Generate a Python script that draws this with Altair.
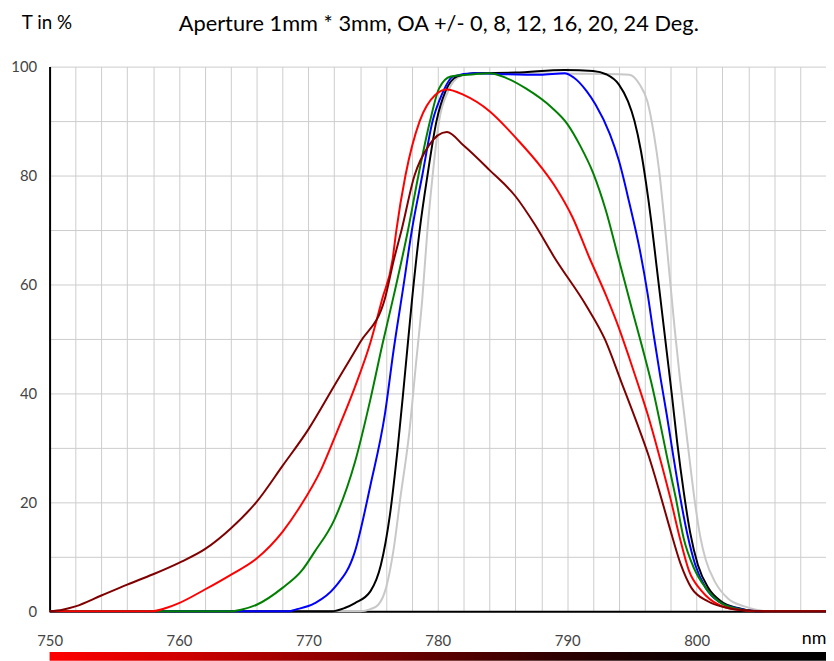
import altair as alt
import pandas as pd

# ---- data ----
series_names = ["0 Deg", "8 Deg", "12 Deg", "16 Deg", "20 Deg", "24 Deg"]
series_colors = ["#c8c8c8", "#000000", "#0000ff", "#008000", "#ff0000", "#800000"]

nm_0 = [750, 774, 774.8, 775.4, 776, 776.6, 777.1, 777.8, 778.3, 778.8, 779.2, 779.6, 780.1, 780.8, 781.7,
        782.8, 786, 790, 794, 794.8, 795.6, 796.2, 796.7, 797.1, 797.5, 797.9, 798.3, 798.7, 799.1,
        799.5, 799.9, 800.3, 800.7, 801.4, 802.4, 803.7, 804.6, 805.5, 810]
t_0 = [0, 0, 0.4, 1.2, 4.3, 11.6, 20.7, 32.9, 45.1, 57.3, 70, 80, 90, 95.5, 98.2,
       98.8, 98.8, 98.7, 98.6, 98.5, 96.7, 93.6, 87.6, 81, 72, 62, 52, 43, 35,
       27, 19.5, 13.5, 9.5, 5.5, 2.4, 0.9, 0.3, 0, 0]

nm_8 = [750, 771.8, 772.8, 773.6, 774.8, 775.6, 776.3, 776.9, 777.4, 778.0, 778.6, 779.2, 779.9, 780.6, 781.5,
        782.8, 786, 789.8, 792, 793, 794, 794.7, 795.2, 795.7, 796.1, 796.5, 796.9, 797.3, 797.7, 798.1,
        798.5, 799, 799.5, 800.1, 800.9, 801.9, 803.2, 804.2, 805, 810]
t_8 = [0, 0, 0.6, 1.5, 3.7, 8.5, 17.7, 29.9, 42, 57, 70, 80, 90, 95.5, 98.2,
       98.8, 98.9, 99.4, 99.2, 98.6, 96.7, 93.6, 90, 84.5, 78.5, 71.5, 63.5, 55.5, 47.5, 39.5,
       31, 22, 14.5, 8.5, 4.3, 1.8, 0.6, 0.1, 0, 0]

nm_12 = [750, 768.5, 769, 770.5, 772, 773.6, 774.8, 775.9, 776.6, 777.3, 778.0, 778.8, 779.6, 780.3, 781.2,
         782.8, 785.3, 787.9, 789.8, 790.5, 791.5, 792.2, 793.3, 794, 794.8, 795.6, 796.2, 796.7, 797.2, 797.7,
         798.2, 798.75, 799.3, 799.9, 800.7, 801.7, 803.2, 804.2, 805, 810]
t_12 = [0, 0, 0.3, 1.5, 4.3, 11, 23.2, 36, 48.2, 59, 70, 80, 90, 94.8, 98.2,
        98.8, 98.6, 98.5, 98.8, 98, 95.5, 93, 87.6, 82.7, 75, 66.5, 58.5, 50.5, 43, 36,
        28.5, 20.7, 14, 8.5, 4.3, 1.8, 0.5, 0.1, 0, 0]

nm_16 = [750, 764, 764.8, 766, 768, 769.5, 770.5, 772, 773.6, 774.8, 775.7, 776.6, 777.7, 778.5, 779.4,
         780.1, 781, 782.8, 784, 785.3, 786.8, 788.8, 790, 791, 792, 793, 794, 795, 795.8, 796.5,
         797.1, 797.7, 798.4, 799, 799.8, 800.7, 801.9, 803.5, 805, 810]
t_16 = [0, 0, 0.3, 1.2, 4.3, 7.5, 11, 16.8, 27.4, 39, 48.8, 58, 70, 80, 90,
        96, 98.2, 98.6, 98.8, 97.9, 96, 92.5, 89.5, 85.5, 80.5, 73.5, 64.5, 55.5, 48.5, 42,
        35.5, 28.5, 20.7, 13.4, 7.9, 4.3, 1.5, 0.3, 0, 0]

nm_20 = [750, 757.9, 759, 760, 762, 764, 766, 768, 769.3, 771, 772.2, 773.6, 774.8, 775.7, 776.5,
         776.8, 777.5, 778.6, 779.8, 780.7, 782, 784, 785.3, 786, 788, 789.2, 790.4, 791.7, 793, 794,
         794.8, 795.5, 796.2, 797.1, 798, 798.7, 799.4, 800.4, 801.7, 803.2, 805, 810]
t_20 = [0, 0, 0.6, 1.5, 4, 6.7, 9.7, 14.6, 19, 26.1, 32.9, 41.2, 49.4, 57.3, 64.5,
        70, 80, 90, 94.8, 95.8, 94.8, 91.8, 88.8, 87, 81.5, 77.5, 72.4, 65, 58, 52,
        46.5, 41.5, 36.3, 28.7, 20.5, 13.5, 7.5, 3.7, 1.2, 0.3, 0, 0]

nm_24 = [750, 751, 752, 754, 756, 758, 760, 762, 764, 766, 768, 770, 772, 774, 775.9,
         776.6, 777.2, 778.2, 779.3, 780.7, 782, 784, 786, 787.5, 789, 791.5, 792.9, 794.2, 795.4, 796.3,
         797.1, 797.9, 798.75, 799.6, 800.9, 802.4, 804.2, 806, 810]
t_24 = [0, 0.3, 0.9, 2.9, 4.9, 6.8, 8.9, 11.4, 15.2, 20.1, 26.7, 33.4, 41.4, 49.4, 57.3,
        64.5, 70, 80, 85.5, 88, 85.5, 81, 76.2, 71, 65, 56, 50, 42, 34.5, 28.5,
        22.2, 15.5, 8.8, 4.3, 1.8, 0.6, 0.1, 0, 0]

x_values = list(range(750, 811, 2))
y_values = list(range(0, 101, 10))
title_text = "Aperture 1mm * 3mm, OA +/- 0, 8, 12, 16, 20, 24 Deg."
y_title_text = "T in %"
x_unit_text = "nm"

# ---- build table ----
all_nm = [nm_0, nm_8, nm_12, nm_16, nm_20, nm_24]
all_t = [t_0, t_8, t_12, t_16, t_20, t_24]
rows = []
for name, xs, ys in zip(series_names, all_nm, all_t):
    for i, (a, b) in enumerate(zip(xs, ys)):
        rows.append({"series": name, "nm": a, "T": b, "i": i})
df = pd.DataFrame(rows)

FONT = "Lato"
W, H = 784, 550

x_enc = alt.X("nm:Q", scale=alt.Scale(domain=[750, 810], nice=False, zero=False),
              axis=alt.Axis(values=x_values, grid=True, ticks=False, title=None,
                            labelExpr="datum.value % 10 == 0 && datum.value <= 800 ? datum.label : ''",
                            labelOverlap=False, labelFlush=False, labelPadding=23,
                            labelFontSize=15, labelColor="#444444", labelFont=FONT,
                            domainColor="#000000", domainWidth=2,
                            gridColor="#cccccc", gridWidth=1))
y_enc = alt.Y("T:Q", scale=alt.Scale(domain=[0, 100], nice=False),
              axis=alt.Axis(values=y_values, grid=True, ticks=False, title=None,
                            labelExpr="datum.value % 20 == 0 ? datum.label : ''",
                            labelOverlap=False, labelFlush=False, labelPadding=13,
                            labelFontSize=15, labelColor="#444444", labelFont=FONT,
                            domainColor="#000000", domainWidth=2,
                            gridColor="#cccccc", gridWidth=1))

base = alt.Chart(df).encode(x=x_enc, y=y_enc, order="i:Q")
layers = []
for name, col in zip(series_names, series_colors):
    layers.append(base.transform_filter(alt.datum.series == name)
                  .mark_line(color=col, strokeWidth=2, interpolate="monotone"))

one = pd.DataFrame({"k": [0]})
gradient = alt.Chart(one).mark_rect(
    color=alt.LinearGradient(
        gradient="linear", x1=0, x2=1, y1=0, y2=0,
        stops=[alt.GradientStop(offset=0, color="#ff0000"),
               alt.GradientStop(offset=0.17, color="#d00000"),
               alt.GradientStop(offset=0.33, color="#980000"),
               alt.GradientStop(offset=0.5, color="#5c0000"),
               alt.GradientStop(offset=0.67, color="#2a0000"),
               alt.GradientStop(offset=0.83, color="#0c0000"),
               alt.GradientStop(offset=1, color="#000000")])
).encode(x=alt.value(0), x2=alt.value(W), y=alt.value(591), y2=alt.value(600))

title = alt.Chart(one).mark_text(font=FONT, fontSize=22, color="#000000", align="center",
                                 baseline="middle").encode(
    x=alt.value(393), y=alt.value(-43), text=alt.value(title_text))
ytitle = alt.Chart(one).mark_text(font=FONT, fontSize=19, color="#000000", align="left",
                                  baseline="middle").encode(
    x=alt.value(-28), y=alt.value(-44), text=alt.value(y_title_text))
unit = alt.Chart(one).mark_text(font=FONT, fontSize=18, color="#000000", align="center",
                                baseline="middle").encode(
    x=alt.value(772), y=alt.value(H + 28), text=alt.value(x_unit_text))

chart = alt.layer(*layers, gradient, title, ytitle, unit).properties(
    width=W, height=H,
    autosize=alt.AutoSizeParams(type="none"),
    padding={"left": 42, "top": 56, "right": 0, "bottom": 47},
    background="#ffffff",
).configure_view(stroke=None)

chart.save("out.html", embed_options={"renderer": "svg", "actions": False})
